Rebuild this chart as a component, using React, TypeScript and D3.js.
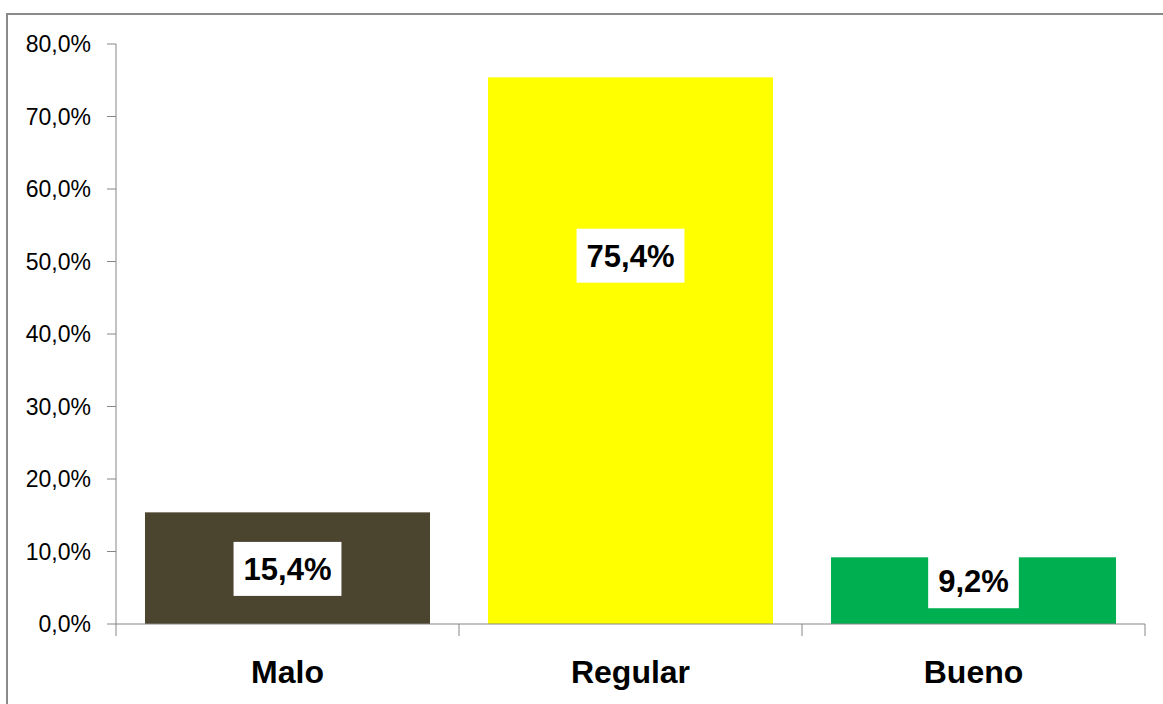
import React, { useEffect, useRef } from "react";
import * as d3 from "d3";

const categories = ["Malo", "Regular", "Bueno"];
const values = [15.4, 75.4, 9.2];
const valueLabels = ["15,4%", "75,4%", "9,2%"];
const labelAnchors = [7.6, 50.8, 5.9];
const barColors = ["#4B4530", "#FFFF00", "#00B050"];
const yTicks = [0, 10, 20, 30, 40, 50, 60, 70, 80];

const W = 1163;
const H = 704;

export default function App() {
  const ref = useRef<SVGSVGElement | null>(null);

  useEffect(() => {
    const svg = d3.select(ref.current);
    svg.selectAll("*").remove();

    // outer frame
    svg.append("rect")
      .attr("x", 7).attr("y", 14)
      .attr("width", W + 20).attr("height", H + 20)
      .attr("fill", "#fff")
      .attr("stroke", "#8a8a8a").attr("stroke-width", 2);

    const x = d3.scaleBand<string>().domain(categories).range([116, 1145]).paddingInner(0.169).paddingOuter(0.0845);
    const xb = d3.scaleBand<string>().domain(categories).range([116, 1145]).padding(0);
    const y = d3.scaleLinear().domain([0, 80]).range([624, 44]);

    const axisColor = "#868686";
    const g = svg.append("g");

    // y axis
    g.append("line").attr("x1", 116).attr("x2", 116).attr("y1", y(80)).attr("y2", y(0))
      .attr("stroke", axisColor).attr("stroke-width", 1);
    yTicks.forEach((t) => {
      g.append("line").attr("x1", 107).attr("x2", 116).attr("y1", y(t)).attr("y2", y(t))
        .attr("stroke", axisColor).attr("stroke-width", 1);
      g.append("text").attr("x", 91).attr("y", y(t)).attr("dy", "0.36em")
        .attr("text-anchor", "end")
        .attr("font-family", "'Liberation Sans', Arial, sans-serif")
        .attr("font-size", 23).attr("fill", "#000")
        .text(t.toFixed(1).replace(".", ",") + "%");
    });

    // bars
    categories.forEach((c, i) => {
      g.append("rect")
        .attr("x", x(c)!).attr("width", x.bandwidth())
        .attr("y", y(values[i])).attr("height", y(0) - y(values[i]))
        .attr("fill", barColors[i]);
    });

    // x axis
    g.append("line").attr("x1", 116).attr("x2", 1145).attr("y1", y(0)).attr("y2", y(0))
      .attr("stroke", axisColor).attr("stroke-width", 1);
    const bounds = [...categories.map((c) => xb(c)!), 1145];
    bounds.forEach((b) => {
      g.append("line").attr("x1", b).attr("x2", b).attr("y1", y(0)).attr("y2", y(0) + 12)
        .attr("stroke", axisColor).attr("stroke-width", 1);
    });

    categories.forEach((c, i) => {
      const cx = x(c)! + x.bandwidth() / 2;
      g.append("text").attr("x", cx).attr("y", 683)
        .attr("text-anchor", "middle")
        .attr("font-family", "'Liberation Sans', Arial, sans-serif")
        .attr("font-weight", "bold").attr("font-size", 32).attr("fill", "#000")
        .text(c);

      const ly = y(labelAnchors[i]);
      const lg = g.append("g");
      const box = lg.append("rect").attr("fill", "#fff");
      const txt = lg.append("text").attr("x", cx).attr("y", ly).attr("dy", "0.36em")
        .attr("text-anchor", "middle")
        .attr("font-family", "'Liberation Sans', Arial, sans-serif")
        .attr("font-weight", "bold").attr("font-size", 31).attr("fill", "#000")
        .text(valueLabels[i]);
      const tw = (txt.node() as SVGTextElement).getComputedTextLength();
      const bw = tw + 20;
      box.attr("x", cx - bw / 2).attr("width", bw).attr("y", ly - 27).attr("height", 54);
    });
  }, []);

  return (
    <svg ref={ref} width={W} height={H}
      style={{ position: "absolute", left: 0, top: 0, background: "#fff" }} />
  );
}
